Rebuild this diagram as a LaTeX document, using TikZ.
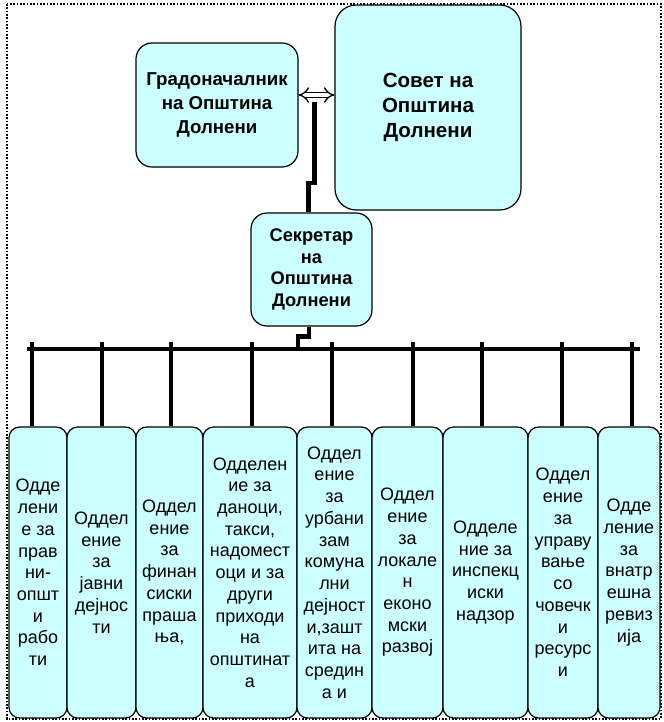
\documentclass[tikz,border=0pt]{standalone}
\usepackage{fontspec}
\setmainfont{Liberation Sans}
\usetikzlibrary{arrows.meta,calc}
\definecolor{paleblue}{RGB}{204,255,255}
\tikzset{
  box/.style={draw, line width=0.9pt, fill=paleblue, align=center, inner sep=0pt},
  head/.style={box, rounded corners=12pt, font=\bfseries\fontsize{14}{18}\selectfont},
  dept/.style={box, rounded corners=8pt, minimum height=218.25pt, font=\fontsize{13.5}{16.3}\selectfont},
  wire/.style={line width=3.6pt},
  twoway/.style={double=white, double distance=3pt, line width=1pt, {Implies[length=5pt]}-{Implies[length=5pt]}}
}
\begin{document}
\begin{tikzpicture}[x=0.75pt, y=-0.75pt]
\useasboundingbox (0,0) rectangle (664,722);
\draw[line width=1.5pt, dash pattern=on 1.3pt off 1.2pt] (7,4) rectangle (661,719);

\node[head, minimum width=121.5pt, minimum height=93pt] (mayor) at (217,105)
  {Градоначалник\\на Општина\\Долнени};
\node[head, rounded corners=16pt, minimum width=139.5pt, minimum height=153.75pt,
  font=\bfseries\fontsize{15.4}{18.5}\selectfont] (council) at (428,107.5)
  {Совет на\\Општина\\Долнени};
\node[head, minimum width=90.75pt, minimum height=84.75pt,
  font=\bfseries\fontsize{13.7}{16.3}\selectfont] (secretary) at (311.5,269.5)
  {Секретар\\на\\Општина\\Долнени};

\foreach \i/\cx/\w/\txt in {
  {1/38/43.5/Одде\\лени\\е за\\прав\\ни-\\општ\\и\\рабо\\ти},
  {2/101.5/51.75/Оддел\\ение\\за\\јавни\\дејнос\\ти},
  {3/169.5/50.25/Оддел\\ение\\за\\финан\\сиски\\праша\\ња,},
  {4/250/70.5/Одделен\\ие за\\даноци,\\такси,\\надомест\\оци и за\\други\\приходи\\на\\општинат\\а},
  {5/334.5/56.25/Оддел\\ение\\за\\урбани\\зам\\комуна\\лни\\дејност\\и,зашт\\ита на\\средин\\а и},
  {6/407.5/53.25/Оддел\\ение\\за\\локале\\н\\еконо\\мски\\развој},
  {7/485.5/63.75/Одделе\\ние за\\инспекц\\иски\\надзор},
  {8/563/52.5/Оддел\\ение\\за\\управу\\вање\\со\\човечк\\и\\ресурс\\и},
  {9/629/46.5/Одде\\ление\\за\\внатр\\ешна\\ревиз\\ија}}
{
  \node[dept, minimum width=\w pt] (d\i) at (\cx,572.5) {\txt};
}

% links
\coordinate (arrowL) at ($(mayor.east)+(0,-10)$);
\draw[twoway] (arrowL) -- (arrowL -| council.west);
\coordinate (link) at ($(mayor.east)+(15.5,-3)$);
\draw[wire] (link) -- ++(0,81) -| ($(secretary.north)+(-3,0)$);

\coordinate (busL) at (27,349);
\coordinate (busR) at (640,349);
\coordinate (join) at (298,349);
\draw[wire] ($(secretary.south)+(-2.5,0)$) -- ++(0,10) -| (join);
\draw[wire] (busL) -- (busR);
\foreach \i/\dx in {1/-6,2/0.5,3/1.5,4/2,5/-2.5,6/5.5,7/-3.5,8/-1,9/3}
{
  \draw[wire] ($(d\i.north)+(\dx,0)$) -- ($(d\i.north |- busL)+(\dx,-7)$);
}
\end{tikzpicture}
\end{document}
